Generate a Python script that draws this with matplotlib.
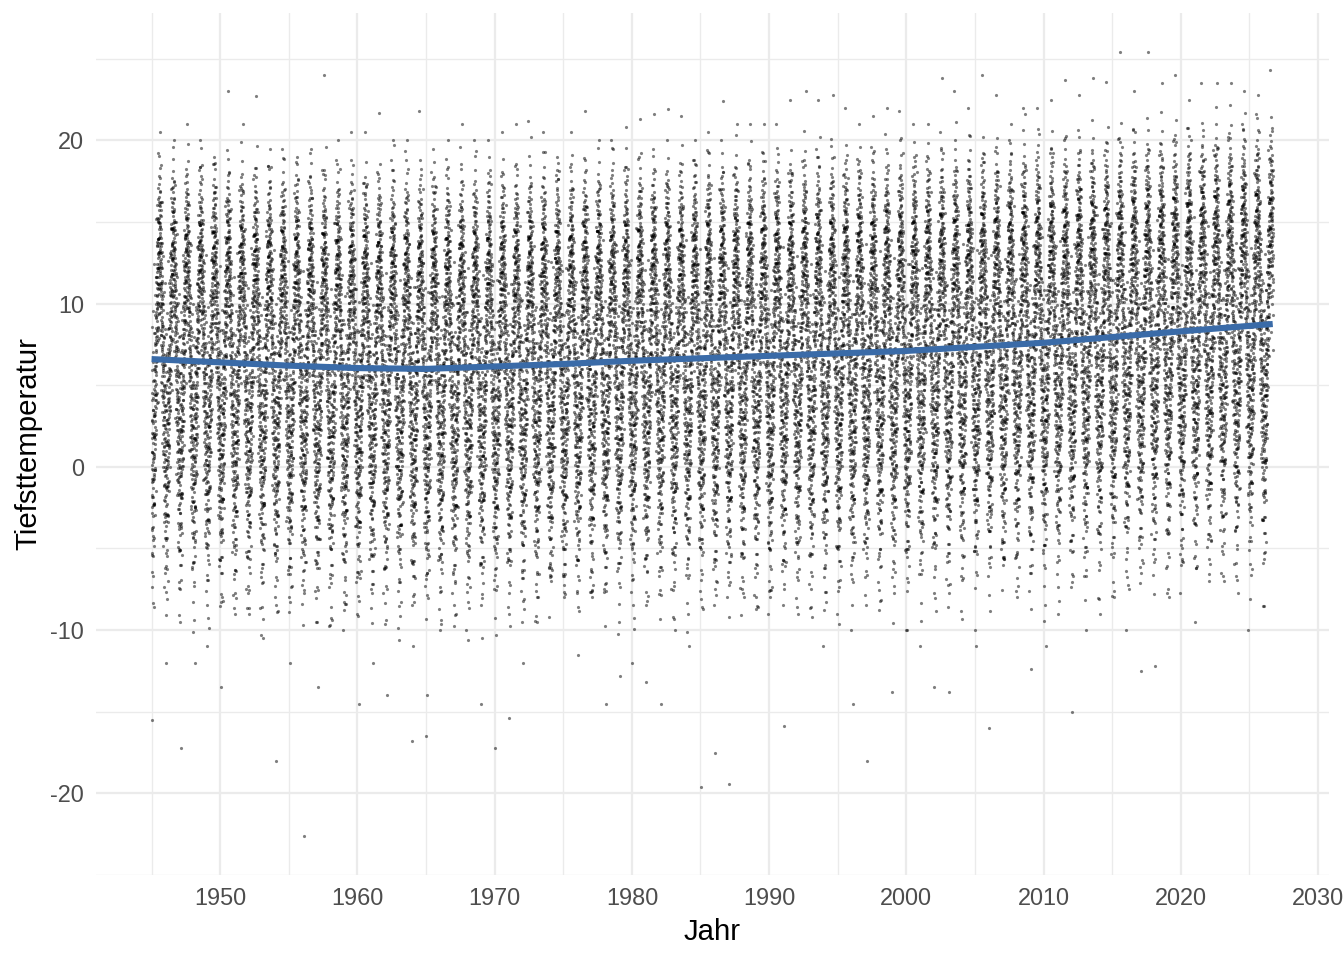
import numpy as np
import pandas as pd
import matplotlib
matplotlib.use("Agg")
import matplotlib.pyplot as plt
from matplotlib.ticker import MultipleLocator

# --- Werte ------------------------------------------------------------------

# geglättete Kurve (blau), Stützstellen
TREND_YEARS = [1945.0, 1950, 1955, 1960, 1965, 1970, 1975, 1980, 1985, 1990,
               1995, 2000, 2005, 2010, 2015, 2020, 2026.7]
TREND_VALUES = [6.6, 6.4, 6.2, 6.05, 6.0, 6.15, 6.3, 6.5, 6.65, 6.8,
                6.95, 7.1, 7.35, 7.6, 7.95, 8.3, 8.75]

YEARS = list(range(1945, 2027))

# tiefster Wert pro Jahr
YEAR_MIN = [-15.5, -12.0, -17.2, -12.0, -11.0, -13.5, -9.0, -9.0, -10.5, -18.0,
            -12.0, -22.6, -13.5, -10.0, -9.0, -14.5, -12.0, -14.0, -16.8, -16.5,
            -14.0, -10.0, -10.0, -14.5, -10.5, -17.2, -15.4, -12.0, -9.5, -7.0,
            -8.0, -11.5, -8.0, -14.5, -12.8, -12.0, -13.2, -14.5, -10.0, -11.0,
            -19.6, -17.5, -19.4, -8.0, -9.0, -8.0, -15.9, -9.0, -11.0, -9.0,
            -10.0, -14.5, -18.0, -13.8, -10.0, -10.0, -11.0, -13.5, -13.8, -10.0,
            -11.0, -16.0, -6.0, -8.0, -12.4, -11.0, -9.0, -15.0, -10.0, -9.0,
            -8.0, -10.0, -12.5, -12.2, -8.0, -6.0, -9.5, -7.0, -7.0, -10.0,
            -8.5, -8.5]

# höchster Wert pro Jahr
YEAR_MAX = [20.5, 20.0, 21.0, 20.0, 19.0, 23.0, 21.0, 22.7, 19.5, 19.5,
            19.0, 19.5, 24.0, 20.0, 20.5, 20.5, 21.7, 20.0, 20.0, 21.8,
            19.5, 20.0, 21.0, 20.0, 20.0, 20.5, 21.0, 21.2, 20.5, 19.0,
            20.5, 21.8, 20.0, 20.0, 20.8, 21.3, 21.6, 21.9, 21.5, 20.0,
            20.5, 22.4, 21.0, 21.0, 21.0, 21.0, 22.5, 23.0, 22.5, 22.8,
            22.0, 21.0, 21.5, 22.0, 21.8, 21.0, 21.0, 23.8, 23.0, 22.0,
            24.0, 22.8, 21.0, 22.0, 22.0, 22.5, 23.7, 22.8, 23.8, 23.6,
            25.4, 23.0, 25.4, 23.5, 24.0, 22.5, 23.5, 23.5, 23.5, 23.0,
            22.8, 24.3]

# Lage der Monate relativ zum Jahresmittel und typische Streuung (geschätzt)
MONTH_OFFSET = [-7.2, -6.8, -4.3, -1.2, 2.8, 5.8, 7.5, 7.3, 4.3, 0.8, -3.0, -5.7]
MONTH_SPREAD = [4.6, 4.4, 3.5, 3.0, 3.0, 2.8, 2.8, 2.8, 2.9, 3.2, 3.6, 4.3]

# Quantile der Standardnormalverteilung (Tabelle)
Q_LEVELS = [0.0, 0.01, 0.025, 0.05, 0.1, 0.2, 0.3, 0.4, 0.5,
            0.6, 0.7, 0.8, 0.9, 0.95, 0.975, 0.99, 1.0]
Q_Z = [-3.0, -2.33, -1.96, -1.645, -1.28, -0.84, -0.52, -0.25, 0.0,
       0.25, 0.52, 0.84, 1.28, 1.645, 1.96, 2.33, 3.0]

START_DATE = "1945-01-01"
END_DATE = "2026-09-20"


def build_daily():
    dates = pd.date_range(START_DATE, END_DATE, freq="D")
    year = dates.year.values
    days_in_year = np.where(dates.is_leap_year, 366, 365)
    frac = (dates.dayofyear.values - 0.5) / days_in_year
    x = year + frac

    month_pos = (np.arange(12) + 0.5) / 12
    offset = np.interp(frac, month_pos, MONTH_OFFSET, period=1.0)
    spread = np.interp(frac, month_pos, MONTH_SPREAD, period=1.0)
    base = np.interp(x, TREND_YEARS, TREND_VALUES)

    # deterministische, gleichmäßig verteilte Abweichungen
    n = np.arange(len(x))
    u = (n * 0.6180339887498949 + 0.5) % 1.0
    z = np.interp(u, Q_LEVELS, Q_Z)
    y = base + offset + z * spread

    for i, yr in enumerate(YEARS):
        m = year == yr
        v = y[m]
        lo_t = min(np.percentile(v, 5), YEAR_MIN[i] + 0.5)
        hi_t = max(np.percentile(v, 97), YEAR_MAX[i] - 0.5)
        vmin, vmax = v.min(), v.max()
        if vmin < lo_t:
            low = v < lo_t
            v[low] = lo_t + (v[low] - lo_t) * (YEAR_MIN[i] - lo_t) / (vmin - lo_t)
        else:
            v[np.argmin(v)] = YEAR_MIN[i]
        if vmax > hi_t:
            high = v > hi_t
            v[high] = hi_t + (v[high] - hi_t) * (YEAR_MAX[i] - hi_t) / (vmax - hi_t)
        else:
            v[np.argmax(v)] = YEAR_MAX[i]
        y[m] = v
    return x, y


plt.rcParams['font.family'] = ['Liberation Sans', 'DejaVu Sans']
plt.rcParams['axes.unicode_minus'] = False

x, y = build_daily()

fig = plt.figure(figsize=(7, 5), dpi=192)
ax = fig.add_axes([96 / 1344, 1 - 875 / 960, (1329 - 96) / 1344, (875 - 13) / 960])

ax.scatter(x, y, s=1.4, c="black", alpha=0.5, linewidths=0, zorder=2)
ax.plot(TREND_YEARS, TREND_VALUES, color="#3A6BA8", linewidth=2.3,
        solid_capstyle="butt", zorder=3)

ax.set_xlim(1940.95, 2030.8)
ax.set_ylim(-25.0, 27.8)

ax.xaxis.set_major_locator(MultipleLocator(10))
ax.xaxis.set_minor_locator(MultipleLocator(5))
ax.yaxis.set_major_locator(MultipleLocator(10))
ax.yaxis.set_minor_locator(MultipleLocator(5))

ax.grid(True, which="major", color="#EBEBEB", linewidth=0.85, zorder=0)
ax.grid(True, which="minor", color="#EBEBEB", linewidth=0.5, zorder=0)
ax.set_axisbelow(True)

for side in ax.spines.values():
    side.set_visible(False)

ax.tick_params(which="both", length=0, labelsize=8.8, labelcolor="#4D4D4D", pad=4.5)
ax.set_xlabel("Jahr", fontsize=11, color="black", labelpad=3)
ax.set_ylabel("Tiefsttemperatur", fontsize=11, color="black", labelpad=3)

fig.savefig("out.png", dpi=192, facecolor="white")
plt.close(fig)
